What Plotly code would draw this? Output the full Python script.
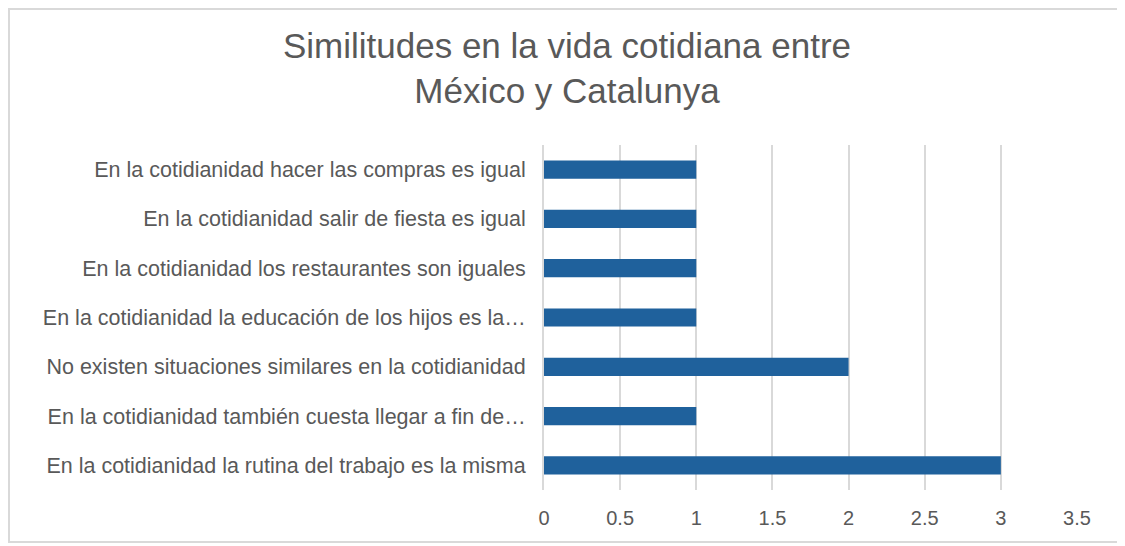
import plotly.graph_objects as go

# Categories as they appear from top to bottom
CATEGORIES = [
    "En la cotidianidad hacer las compras es igual",
    "En la cotidianidad salir de fiesta es igual",
    "En la cotidianidad los restaurantes son iguales",
    "En la cotidianidad la educación de los hijos es la…",
    "No existen situaciones similares en la cotidianidad",
    "En la cotidianidad también cuesta llegar a fin de…",
    "En la cotidianidad la rutina del trabajo es la misma",
]
VALUES = [1, 1, 1, 1, 2, 1, 3]
X_TICKS = [0, 0.5, 1, 1.5, 2, 2.5, 3, 3.5]
X_TICK_LABELS = ["0", "0.5", "1", "1.5", "2", "2.5", "3", "3.5"]

TITLE = "Similitudes en la vida cotidiana entre<br>México y Catalunya"

# page body has an 8px margin, so the figure is sized to the visible area
W, H = 1117, 538
M_L, M_R, M_T, M_B = 536, 48, 137, 56
TEXT_COLOR = "#595959"
GRID_COLOR = "#d9d9d9"
BAR_COLOR = "#1f619c"

fig = go.Figure()
fig.add_trace(go.Bar(
    x=VALUES, y=CATEGORIES, orientation="h",
    marker=dict(color=BAR_COLOR, line=dict(width=0)),
    width=0.37, hoverinfo="x+y",
))

fig.update_layout(
    width=W, height=H,
    margin=dict(l=M_L, r=M_R, t=M_T, b=M_B),
    paper_bgcolor="white", plot_bgcolor="white",
    font=dict(family="Liberation Sans, Arial, sans-serif", color=TEXT_COLOR),
    title=dict(text=TITLE, x=(567 - 8) / W, xref="container", xanchor="center",
               y=1 - 49.5 / H, yref="container", yanchor="middle",
               font=dict(size=35, color=TEXT_COLOR)),
    showlegend=False,
)

fig.update_xaxes(
    range=[0, 3.5], tickvals=X_TICKS, ticktext=X_TICK_LABELS,
    showgrid=True, gridcolor=GRID_COLOR, gridwidth=2,
    zeroline=False, showline=False, ticks="",
    tickfont=dict(size=20, color=TEXT_COLOR), ticklabelstandoff=14,
)
fig.update_yaxes(
    autorange="reversed", showgrid=False, zeroline=False,
    showline=True, linecolor=GRID_COLOR, linewidth=2, ticks="",
    tickfont=dict(size=21.5, color=TEXT_COLOR), ticklabelstandoff=12,
)

# Outer frame around the whole chart area
pw = W - M_L - M_R
ph = H - M_T - M_B
fig.add_shape(
    type="rect", xref="paper", yref="paper",
    x0=-(M_L - 1) / pw, x1=1 + (M_R - 4) / pw,
    y0=-(M_B - 4) / ph, y1=1 + (M_T - 1) / ph,
    line=dict(color="#d9d9d9", width=2), layer="below",
)

fig.write_html("out.html")
